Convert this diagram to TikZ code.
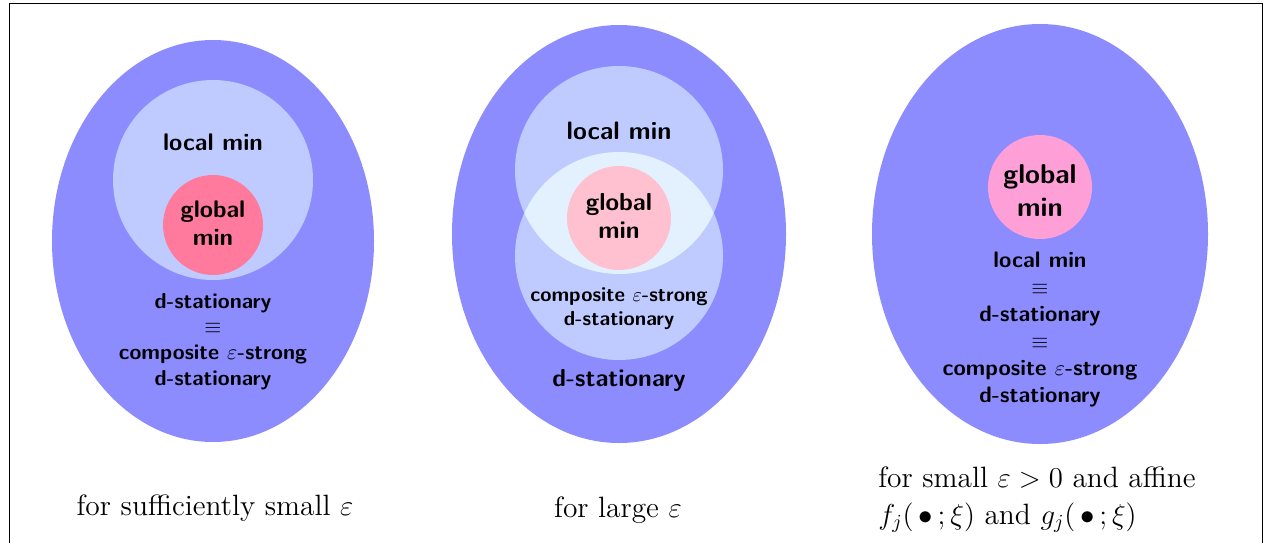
\documentclass[tikz,border=0pt]{standalone}
\usepackage{tikz}
\usetikzlibrary{shapes.geometric}
\definecolor{outerblue}{HTML}{8C8CFF}
\definecolor{lightblue}{HTML}{BFCBFF}
\definecolor{lensblue}{HTML}{E3F1FF}
\definecolor{pinkA}{HTML}{FF7A9C}
\definecolor{pinkB}{HTML}{FFC0CF}
\definecolor{pinkC}{HTML}{FF9FD8}
\tikzset{
  outerset/.style={ellipse, fill=outerblue, draw=none, inner sep=0pt},
  circset/.style={circle, draw=none, inner sep=0pt},
  lbl/.style={font=\sffamily\bfseries, align=center, inner sep=0pt},
  captext/.style={font=\fontsize{14.7}{18.5}\selectfont, inner sep=0pt},
}
\begin{document}
\begin{tikzpicture}[x=0.5pt,y=-0.5pt]
\useasboundingbox (0,0) rectangle (1273,542);
\fill[white] (0,0) rectangle (1273,542);
\draw[line width=0.6pt] (9.5,560) -- (9.5,3.5) -- (1262.5,3.5) -- (1262.5,560);

% ---- panel 1
\node[outerset, minimum width=161pt, minimum height=201pt] (o1) at (213,241) {};
\node[circset, fill=lightblue, minimum size=100pt] (l1) at (213,180) {};
\node[circset, fill=pinkA, minimum size=50pt] (g1) at (213,225) {};
\node[lbl, font=\sffamily\bfseries\fontsize{12}{14}\selectfont] (t1a) at (213,142) {local min};
\node[lbl, font=\sffamily\bfseries\fontsize{12}{14}\selectfont] (t1b) at (213,223.5) {global\\min};
\node[lbl, font=\sffamily\bfseries\fontsize{10.8}{12.8}\selectfont] (t1c) at (213,341.5) {d-stationary\\$\equiv$\\composite $\varepsilon$-strong\\d-stationary};
\node[captext] (c1) at (215,508) {for sufficiently small $\varepsilon$};

% ---- panel 2
\node[outerset, minimum width=167pt, minimum height=209pt] (o2) at (619,234) {};
\node[circset, fill=lightblue, minimum size=104pt] (u2) at (619,170) {};
\node[circset, fill=lightblue, minimum size=104pt] (d2) at (619,256) {};
\begin{scope}
  \clip (619,170) circle[radius=52pt];
  \fill[lensblue] (619,256) circle[radius=52pt];
\end{scope}
\node[circset, fill=pinkB, minimum size=52pt] (g2) at (619,218) {};
\node[lbl, font=\sffamily\bfseries\fontsize{12.6}{14}\selectfont] (t2a) at (619,131) {local min};
\node[lbl, font=\sffamily\bfseries\fontsize{12.3}{14}\selectfont] (t2b) at (619,216) {global\\min};
\node[lbl, font=\sffamily\bfseries\fontsize{10.2}{12}\selectfont] (t2c) at (619,309) {composite $\varepsilon$-strong\\d-stationary};
\node[lbl, font=\sffamily\bfseries\fontsize{12.3}{14}\selectfont] (t2d) at (619,380) {d-stationary};
\node[captext] (c2) at (618,510) {for large $\varepsilon$};

% ---- panel 3
\node[outerset, minimum width=168pt, minimum height=210pt] (o3) at (1040,234) {};
\node[circset, fill=pinkC, minimum size=52pt] (g3) at (1040,187) {};
\node[lbl, font=\sffamily\bfseries\fontsize{13.6}{16.5}\selectfont] (t3b) at (1040,191) {global\\min};
\node[lbl, font=\sffamily\bfseries\fontsize{11.2}{13.5}\selectfont] (t3c) at (1040,329.5) {local min\\$\equiv$\\d-stationary\\$\equiv$\\composite $\varepsilon$-strong\\d-stationary};
\node[captext, align=left, anchor=west] (c3) at (878,499.5) {for small $\varepsilon>0$ and affine\\$f_j(\,\bullet\,;\xi)$ and $g_j(\,\bullet\,;\xi)$};
\end{tikzpicture}
\end{document}
